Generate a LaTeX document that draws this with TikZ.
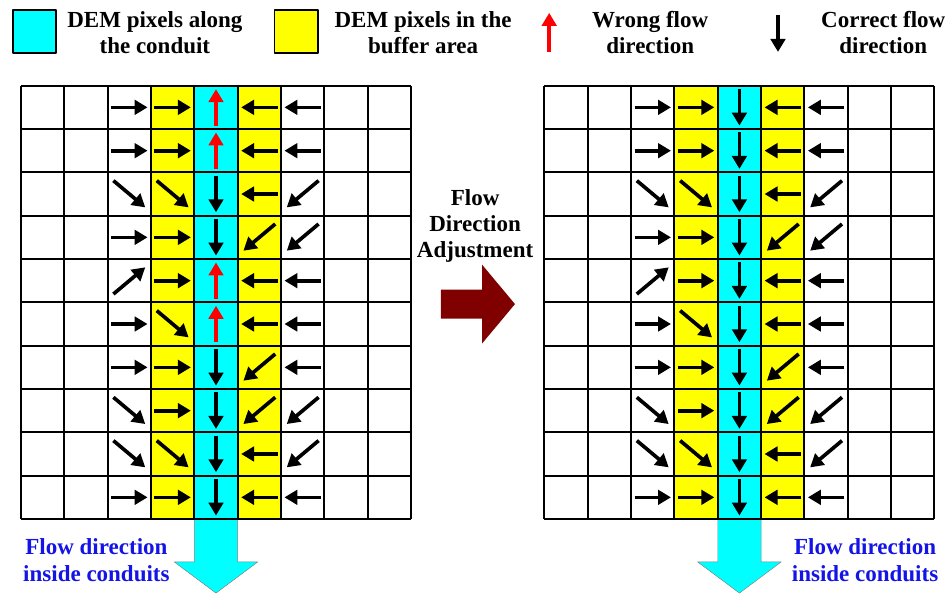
\documentclass[tikz,border=0pt]{standalone}
\usepackage{fontspec}
\setmainfont{Liberation Serif}
\usetikzlibrary{arrows.meta}
\definecolor{adjred}{RGB}{128,0,0}
\definecolor{flowblue}{RGB}{20,20,230}
\definecolor{conduit}{RGB}{0,255,255}
\definecolor{buffer}{RGB}{255,255,0}

\begin{document}
\begin{tikzpicture}[line join=round,x=1cm,y=1cm,>={Triangle[length=8.5pt,width=9.5pt]},
  gridline/.style={line width=1.3pt},
  flow/.style={->,line width=2.4pt},
  lbl/.style={align=center,font=\fontsize{15.1}{17.1}\selectfont\bfseries,inner sep=0pt},
  keybox/.style={draw,line width=1.3pt,minimum size=1cm,inner sep=0pt}]
\useasboundingbox (-0.485,-1.754) rectangle (21.417,11.978);
% legend
\node[keybox,fill=conduit] (conduitkey) at (0.31,11.25) {};
\node[lbl] (conduittxt) at (3.09,11.22) {DEM pixels along\\the conduit};
\node[keybox,fill=buffer] (bufferkey) at (6.35,11.25) {};
\node[lbl] (buffertxt) at (9.28,11.22) {DEM pixels in the\\buffer area};
\draw[flow,red] (12.19,10.78) -- (12.19,11.68);
\node[lbl] (wrongtxt) at (14.52,11.22) {Wrong flow\\direction};
\draw[flow] (17.47,11.64) -- (17.47,10.78);
\node[lbl] (correcttxt) at (19.9,11.22) {Correct flow\\direction};
% both grids, the right one corrected
\foreach \px/\fix in {0/0,12.08/1} {
\begin{scope}[shift={(\px,0)}]
  \fill[buffer] (3,0) rectangle (4,10) (5,0) rectangle (6,10);
  \fill[conduit] (4,0) rectangle (5,10);
  \fill[conduit,draw=gray,line width=.3pt] (4,0) -- (4,-0.99) -- (3.535,-0.99) -- (4.5,-1.71)
    -- (5.465,-0.99) -- (5,-0.99) -- (5,0) -- cycle;
  \draw[gridline] (0,0) grid (9,10);
  \foreach \r/\pa/\pb/\pc/\pd/\pe in {9/0/0/90/180/180, 8/0/0/90/180/180,
      7/-40/-40/-90/180/-140, 6/0/0/-90/-140/-140, 5/40/0/90/180/180,
      4/0/-40/90/180/180, 3/0/0/-90/-140/180, 2/-40/0/-90/-140/-140,
      1/-40/-40/-90/180/-140, 0/0/0/-90/180/180} {
    \foreach \col/\ang in {2/\pa,3/\pb,4/\pc,5/\pd,6/\pe} {
      \pgfmathtruncatemacro\fixed{(\col==4)&&(\fix==1)}
      \ifnum\fixed=1 \def\ang{-90}\fi
      \pgfmathtruncatemacro\bad{\ang==90}
      \pgfmathsetmacro\len{ifthenelse(mod(\ang,90)==0,0.42,0.48)}
      \pgfmathsetmacro\full{2*\len}
      \ifnum\bad=1 \def\fc{red}\else\def\fc{black}\fi
      \draw[flow,color=\fc] (\col+.5,\r+.5) ++(\ang+180:\len) -- ++(\ang:\full);
    }
  }
\end{scope}
}
% adjustment arrow
\node[lbl] (adjtxt) at (10.48,6.76) {Flow\\Direction\\Adjustment};
\fill[adjred] (9.69,4.625) -- (10.64,4.625) -- (10.64,4.05) -- (11.40,4.96)
  -- (10.64,5.87) -- (10.64,5.295) -- (9.69,5.295) -- cycle;
\node[lbl,text=flowblue] (leftflow) at (1.74,-0.95) {Flow direction\\inside conduits};
\node[lbl,text=flowblue] (rightflow) at (19.48,-0.95) {Flow direction\\inside conduits};
\end{tikzpicture}
\end{document}
